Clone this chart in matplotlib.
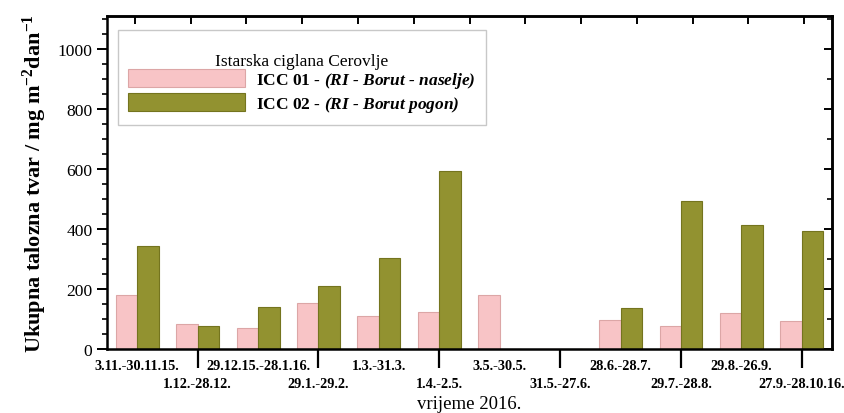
import numpy as np
import matplotlib
matplotlib.use("Agg")
import matplotlib.pyplot as plt
from matplotlib.ticker import MultipleLocator

plt.rcParams['font.family'] = ['Liberation Serif', 'DejaVu Serif']
plt.rcParams['mathtext.fontset'] = 'custom'
# \text{} in the legend picks up the rm font -> bold italic; the axis label uses \mathbf
plt.rcParams['mathtext.rm'] = 'Liberation Serif:italic:bold'
plt.rcParams['mathtext.it'] = 'Liberation Serif:italic:bold'
plt.rcParams['mathtext.bf'] = 'Liberation Serif:bold'

periods = ['3.11.-30.11.15.', '1.12.-28.12.', '29.12.15.-28.1.16.', '29.1.-29.2.',
           '1.3.-31.3.', '1.4.-2.5.', '3.5.-30.5.', '31.5.-27.6.',
           '28.6.-28.7.', '29.7.-28.8.', '29.8.-26.9.', '27.9.-28.10.16.']
icc01 = [180, 83, 70, 153, 109, 124, 180, 0, 97, 76, 119, 92]
icc02 = [344, 78, 141, 211, 304, 592, 0, 0, 137, 494, 414, 392]

label01 = r'ICC 01 - $\text{(RI - Borut - naselje)}$'
label02 = r'ICC 02 - $\text{(RI - Borut pogon)}$'
legend_title = 'Istarska ciglana Cerovlje'

pink = '#f8c4c6'
olive = '#929230'

fig = plt.figure(figsize=(8.44, 4.14), dpi=100)
ax = fig.add_axes([0.1268, 0.1546, 0.859, 0.8044])

x = np.arange(1, len(periods) + 1)
w = 0.355
ax.bar(x - w / 2, icc01, w, color=pink, edgecolor='#dca6a6', linewidth=0.8, label=label01)
ax.bar(x + w / 2, icc02, w, color=olive, edgecolor='#74741e', linewidth=0.8, label=label02)

ax.set_xlim(0.5, len(periods) + 0.5)
ax.set_ylim(0, 1110)

# y axis: outward ticks on the left, inward on the right
ax.yaxis.set_major_locator(MultipleLocator(200))
ax.yaxis.set_minor_locator(MultipleLocator(50))
ax.tick_params(axis='y', which='major', direction='out', length=7, width=1.4, labelsize=12.6)
ax.tick_params(axis='y', which='minor', direction='out', length=3.5, width=1.2)
sec_y = ax.secondary_yaxis('right')
sec_y.yaxis.set_major_locator(MultipleLocator(200))
sec_y.yaxis.set_minor_locator(MultipleLocator(100))
sec_y.tick_params(which='major', direction='in', length=6, width=1.4, labelright=False)
sec_y.tick_params(which='minor', direction='in', length=3.5, width=1.2)

# x axis: long separators at every second period, labels in two rows
ax.xaxis.remove_overlapping_locs = False
ax.set_xticks(x[1::2])
ax.set_xticklabels([])
ax.tick_params(axis='x', which='major', direction='out', length=14, width=1.6)
ax.set_xticks(x[0::2], minor=True)
ax.set_xticklabels(periods[0::2], minor=True, fontweight='bold', fontsize=10.3)
ax.tick_params(axis='x', which='minor', length=0, pad=7, labelbottom=True)

row2 = ax.secondary_xaxis('bottom')
row2.set_xticks(x[1::2])
row2.set_xticklabels(periods[1::2], fontweight='bold', fontsize=10.3)
row2.tick_params(length=0, pad=20)
row2.spines['bottom'].set_visible(False)

n = len(periods)
sec_x = ax.secondary_xaxis('top', functions=(lambda v: (v - 0.5) * (n + 1) / n,
                                             lambda t: 0.5 + t * n / (n + 1)))
sec_x.set_xticks(np.arange(0.5, n + 1, 1))
sec_x.tick_params(direction='in', length=6, width=1.4, labeltop=False)

for s in ax.spines.values():
    s.set_linewidth(1.8)
for s in list(sec_x.spines.values()) + list(sec_y.spines.values()):
    s.set_linewidth(1.8)

ax.set_ylabel(r'Ukupna talozna tvar / mg m$^{\mathbf{-2}}$dan$^{\mathbf{-1}}$', fontsize=16,
              fontweight='bold', labelpad=6)
ax.set_xlabel('vrijeme 2016.', fontsize=13.5)
ax.xaxis.set_label_coords(0.5, -0.138)

leg = ax.legend(loc='upper left', bbox_to_anchor=(0.015, 0.958), borderaxespad=0,
                title='\n' + legend_title,
                prop={'weight': 'bold', 'size': 12.5}, title_fontsize=12.5,
                handlelength=6.74, handleheight=1.25, handletextpad=0.63,
                labelspacing=0.19, borderpad=0.6, fancybox=False,
                edgecolor='#c8c8c8', framealpha=1)
leg.get_title().set_linespacing(0.7)
leg._legend_box.sep = 0  # title sits right on top of the first entry
leg.get_frame().set_linewidth(1.0)

fig.savefig('out.png', dpi=100)
